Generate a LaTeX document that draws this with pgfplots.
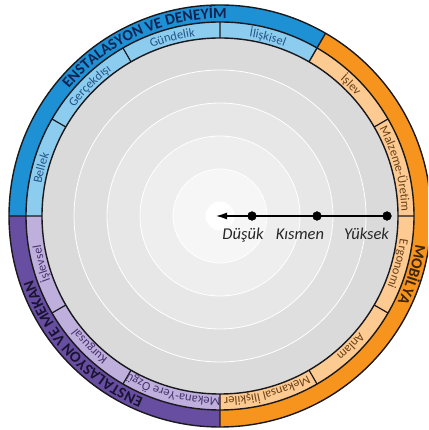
\documentclass[border=0pt]{standalone}
\usepackage{pgfplots}
\pgfplotsset{compat=1.18}
\usepackage{fontspec}
\setmainfont{Carlito}
\usetikzlibrary{decorations.text,arrows.meta}

\definecolor{blueD}{RGB}{30,144,212}
\definecolor{blueL}{RGB}{140,204,238}
\definecolor{orangeD}{RGB}{247,148,29}
\definecolor{orangeL}{RGB}{253,202,145}
\definecolor{purpleD}{RGB}{104,78,160}
\definecolor{purpleL}{RGB}{190,175,220}
\definecolor{edge}{RGB}{25,25,30}
\definecolor{tBlueD}{RGB}{20,35,80}
\definecolor{tOrangeD}{RGB}{60,35,10}
\definecolor{tPurpleD}{RGB}{25,20,50}
\definecolor{tBlueL}{RGB}{35,85,135}
\definecolor{tOrangeL}{RGB}{105,65,25}
\definecolor{tPurpleL}{RGB}{70,50,110}
\definecolor{g1}{gray}{0.855}
\definecolor{g2}{gray}{0.875}
\definecolor{g3}{gray}{0.905}
\definecolor{g4}{gray}{0.935}
\definecolor{g5}{gray}{0.965}

% text on a clockwise arc: centre angle, half span, baseline radius, colour, size, text
\newcommand{\arctext}[6]{%
  \path[decorate,decoration={text along path,text align=center,text color=#4,
      text={|\fontsize{#5}{#5}\selectfont|#6}}]
    (#1+#2:#3pt) arc[start angle=#1+#2,end angle=#1-#2,radius=#3pt];}
\newcommand{\arctextb}[6]{%
  \path[decorate,decoration={text along path,text align=center,text color=#4,
      text={|\fontsize{#5}{#5}\selectfont\bfseries|#6}}]
    (#1+#2:#3pt) arc[start angle=#1+#2,end angle=#1-#2,radius=#3pt];}

\begin{document}
\begin{tikzpicture}
\begin{axis}[
  x=1pt, y=1pt,
  xmin=-220, xmax=208, ymin=-214, ymax=216,
  hide axis, clip=true,
]
\begin{scope}[shift={(axis cs:0,0)}]
% outer ring
\fill[blueD] (0pt,0pt) -- (60:211pt) arc[start angle=60,end angle=180,radius=211pt] -- cycle;
\fill[purpleD] (0pt,0pt) -- (180:211pt) arc[start angle=180,end angle=270,radius=211pt] -- cycle;
\fill[orangeD] (0pt,0pt) -- (-90:211pt) arc[start angle=-90,end angle=60,radius=211pt] -- cycle;
% inner band
\fill[blueL] (0pt,0pt) -- (60:194pt) arc[start angle=60,end angle=180,radius=194pt] -- cycle;
\fill[purpleL] (0pt,0pt) -- (180:194pt) arc[start angle=180,end angle=270,radius=194pt] -- cycle;
\fill[orangeL] (0pt,0pt) -- (-90:194pt) arc[start angle=-90,end angle=60,radius=194pt] -- cycle;
% grey rings
\fill[g1] (0pt,0pt) circle[radius=178pt];
\fill[g2] (0pt,0pt) circle[radius=146pt];
\fill[g3] (0pt,0pt) circle[radius=113pt];
\fill[g4] (0pt,0pt) circle[radius=80pt];
\fill[g5] (0pt,0pt) circle[radius=47pt];
\fill[white] (0pt,0pt) circle[radius=14pt];
\draw[white,line width=0.8pt] (0pt,0pt) circle[radius=146pt] circle[radius=113pt]
  circle[radius=80pt] circle[radius=47pt] circle[radius=14pt];
% outlines
\draw[edge,line width=1.4pt] (0pt,0pt) circle[radius=211pt] circle[radius=194pt] circle[radius=178pt];
\draw[edge,line width=1.2pt]
  (0:178pt) -- (0:194pt) (30:178pt) -- (30:194pt) (90:178pt) -- (90:194pt)
  (120:178pt) -- (120:194pt) (150:178pt) -- (150:194pt) (210:178pt) -- (210:194pt)
  (240:178pt) -- (240:194pt) (300:178pt) -- (300:194pt) (330:178pt) -- (330:194pt);
\draw[edge,line width=1.4pt] (60:178pt) -- (60:211pt) (180:178pt) -- (180:211pt) (270:178pt) -- (270:211pt);
% group labels
\arctextb{114}{60}{197.5}{tBlueD}{15.5}{ENSTALASYON VE DENEYİM}
\arctextb{-17}{30}{197.5}{tOrangeD}{15.5}{MOBİLYA}
\arctextb{223}{40}{197.5}{tPurpleD}{15.5}{ENSTALASYON VE MEKAN}
% band labels
\arctext{75}{15}{181.5}{tBlueL}{12.5}{İlişkisel}
\arctext{105}{15}{181.5}{tBlueL}{12.5}{Gündelik}
\arctext{135}{15}{181.5}{tBlueL}{12.5}{Gerçekdışı}
\arctext{165}{15}{181.5}{tBlueL}{12.5}{Bellek}
\arctext{45}{15}{181.5}{tOrangeL}{12.5}{İşlev}
\arctext{15}{15}{181.5}{tOrangeL}{12.5}{Malzeme-Üretim}
\arctext{-15}{15}{181.5}{tOrangeL}{12.5}{Ergonomi}
\arctext{-45}{15}{181.5}{tOrangeL}{12.5}{Anlam}
\arctext{-75}{15}{181.5}{tOrangeL}{12.5}{Mekansal İlişkiler}
\arctext{195}{15}{181.5}{tPurpleL}{12.5}{İşlevsel}
\arctext{225}{15}{181.5}{tPurpleL}{12.5}{Kurgusal}
\arctext{255}{15}{181.5}{tPurpleL}{12.5}{Mekana-Yere Özgü}
\end{scope}
% scale: low -> high
\addplot[black,line width=1.3pt,-{Latex[length=11pt,width=7pt]}] coordinates {(167,0) (-4,0)};
\addplot[only marks,mark=*,mark size=4.4pt,black] coordinates {(32,0) (97,0) (167,0)};
\node[anchor=base,font=\fontsize{16.5}{16.5}\selectfont\itshape,text=black!85] at (axis cs:23,-24) {Düşük};
\node[anchor=base,font=\fontsize{16.5}{16.5}\selectfont\itshape,text=black!85] at (axis cs:80,-24) {Kısmen};
\node[anchor=base,font=\fontsize{16.5}{16.5}\selectfont\itshape,text=black!85] at (axis cs:146.5,-24) {Yüksek};
\end{axis}
\pgfresetboundingbox
\useasboundingbox (current axis.south west) rectangle (current axis.north east);
\end{tikzpicture}
\end{document}
